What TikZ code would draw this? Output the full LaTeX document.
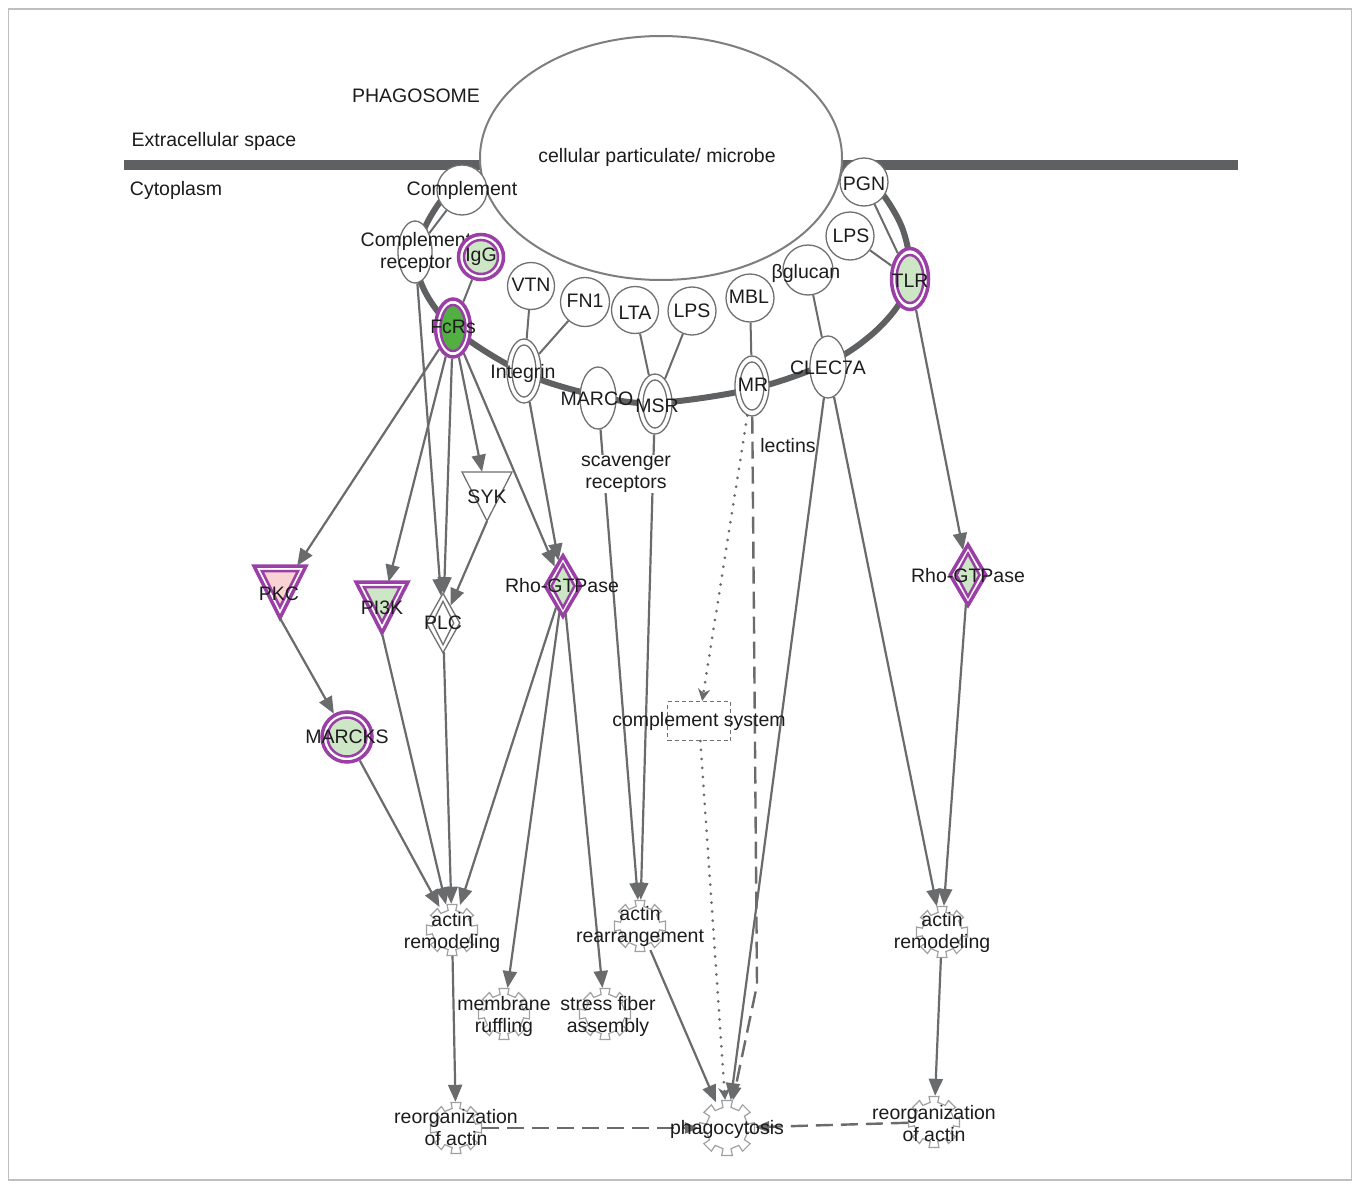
\documentclass[tikz,border=0pt]{standalone}
\usepackage{fontspec}
\setmainfont{Liberation Sans}
\usetikzlibrary{shapes.geometric,arrows.meta,calc}
\definecolor{edgegray}{HTML}{6A6B6D}
\definecolor{memgray}{HTML}{5E6062}
\definecolor{nodegray}{HTML}{707070}
\definecolor{ipapurple}{HTML}{9A3FA6}
\definecolor{lgreen}{HTML}{CDE6C5}
\definecolor{dgreen}{HTML}{52B043}
\definecolor{lpink}{HTML}{F9D3D3}
\definecolor{gearline}{HTML}{A0A0A0}
\definecolor{txt}{HTML}{1C1C1C}
\tikzset{
  pics/gearsm/.style={code={
    \draw[draw=gearline, line width=1.2pt, fill=white] ({-11}:20) \foreach \a in {0,45,...,315}{ -- ({\a-11}:20) -- ({\a-11}:26) -- ({\a+11}:26) -- ({\a+11}:20) } -- cycle;
  }},
  pics/gearbig/.style={code={
    \draw[draw=gearline, line width=1.2pt, fill=white] ({-11}:21) \foreach \a in {0,45,...,315}{ -- ({\a-11}:21) -- ({\a-11}:28) -- ({\a+11}:28) -- ({\a+11}:21) } -- cycle;
  }},
}
\begin{document}
\begin{tikzpicture}[x=1pt,y=-1pt,font=\fontsize{19.5}{22}\selectfont,
  lbl/.style={text=txt, inner sep=0pt, align=center},
  circ/.style={circle, draw=nodegray, line width=1.3pt, fill=white, inner sep=0pt},
  ell/.style={ellipse, draw=nodegray, line width=1.3pt, fill=white, inner sep=0pt},
  pout/.style={draw=ipapurple, line width=3.5pt, fill=white, inner sep=0pt},
  pin/.style={draw=ipapurple, line width=2.5pt, inner sep=0pt},
  gout/.style={draw=nodegray, line width=1.3pt, fill=white, inner sep=0pt},
  fnode/.style={circle, inner sep=0pt, minimum size=52pt},
  hook/.style={inner sep=0pt},
  lig/.style={draw=edgegray, line width=2pt},
  arr/.style={draw=edgegray, line width=2.2pt, -{Triangle[length=17pt,width=14pt]}},
  dotarr/.style={draw=edgegray, line width=3pt, dash pattern=on 0pt off 9pt, line cap=round, -{Stealth[length=12pt,width=12pt]}},
  dasharr/.style={draw=edgegray, line width=2.4pt, dash pattern=on 17pt off 8pt, -{Triangle[length=14pt,width=11pt]}},
]
\useasboundingbox (0,0) rectangle (1359,1188);
\fill[white] (0,0) rectangle (1359,1188);
\draw[black!25, line width=1.5pt] (8.5,9) rectangle (1351.5,1180);

% membrane
\draw[memgray, line width=10pt] (124,165) -- (482,165);
\draw[memgray, line width=10pt] (840,165) -- (1238,165);
\draw[memgray, line width=6pt] plot[smooth, tension=0.55] coordinates {(478,166) (446,194) (422,235) (420,280) (453,328) (524,373) (598,396) (656,403) (752,389) (828,363) (870,336) (899,304) (910,270) (903,230) (884,196) (862,175) (846,165)};

% phagosome particle
\node[ellipse, draw=nodegray!90, line width=2pt, fill=white, inner sep=0pt, minimum width=362pt, minimum height=244pt] (microbe) at (661,158) {};

% ligands and receptors
\node[circ, minimum size=50pt] (compl) at (462,190) {};
\node[ell, minimum width=34pt, minimum height=62pt] (cr) at (415,252) {};
\node[lbl] at (416,252) {Complement\\receptor};
\node[circle, pout, minimum size=45pt] (igg) at (481,257) {};
\node[circle, pin, fill=lgreen, minimum size=34pt] at (igg) {};
\node[ellipse, pout, minimum width=35pt, minimum height=58pt] (fcrs) at (453,328) {};
\node[ellipse, pin, fill=dgreen, minimum width=25pt, minimum height=46pt] at (fcrs) {};
\node[circ, minimum size=47pt] (vtn) at (531,286) {};
\node[circ, minimum size=49pt] (fn1) at (585,302) {};
\node[circ, minimum size=47pt] (lta) at (635,310) {};
\node[circ, minimum size=48pt] (lpsm) at (692,311) {};
\node[circ, minimum size=48pt] (mbl) at (750,298) {};
\node[circ, minimum size=50pt] (bgl) at (808,270) {};
\node[circ, minimum size=48pt] (lpsr) at (850,236) {};
\node[circ, minimum size=48pt] (pgn) at (864,182) {};
\node[ellipse, pout, minimum width=37pt, minimum height=61pt] (tlr) at (910,279) {};
\node[ellipse, pin, fill=lgreen, minimum width=27pt, minimum height=48pt] at (tlr) {};
\node[ell, minimum width=34pt, minimum height=64pt] (integrin) at (524,371) {};
\node[ell, minimum width=24pt, minimum height=52pt] at (integrin) {};
\node[ell, minimum width=36pt, minimum height=62pt] (marco) at (598,398) {};
\node[ell, minimum width=34pt, minimum height=60pt] (msr) at (655,404) {};
\node[ell, minimum width=24pt, minimum height=48pt] at (msr) {};
\node[ell, minimum width=34pt, minimum height=60pt] (mr) at (752,386) {};
\node[ell, minimum width=24pt, minimum height=48pt] at (mr) {};
\node[ell, minimum width=36pt, minimum height=62pt] (clec) at (828,367) {};

% signalling molecules
\node[hook, minimum width=50pt, minimum height=49pt] (syk) at (487,496.5) {};
\draw[gout] (462,472) -- (512,472) -- (487,521) -- cycle;
\node[hook, minimum width=52pt, minimum height=52pt] (pkc) at (280,592) {};
\draw[pout] (254,566) -- (306,566) -- (280,618) -- cycle;
\draw[pin, fill=lpink] (262,571) -- (298,571) -- (280,607) -- cycle;
\node[hook, minimum width=52pt, minimum height=51pt] (pi3k) at (382,607.5) {};
\draw[pout] (356,582) -- (408,582) -- (382,633) -- cycle;
\draw[pin, fill=lgreen] (364,587) -- (400,587) -- (382,622) -- cycle;
\node[diamond, gout, minimum width=34pt, minimum height=60pt] (plc) at (443,623) {};
\node[diamond, gout, minimum width=22pt, minimum height=44pt] at (plc) {};
\node[diamond, pout, minimum width=37pt, minimum height=62pt] (rhoL) at (563,586) {};
\node[diamond, pin, fill=lgreen, minimum width=24pt, minimum height=44pt] at (rhoL) {};
\node[diamond, pout, minimum width=37pt, minimum height=62pt] (rhoR) at (968,575) {};
\node[diamond, pin, fill=lgreen, minimum width=24pt, minimum height=44pt] at (rhoR) {};
\node[circle, pout, minimum size=50pt] (marcks) at (347,737) {};
\node[circle, pin, fill=lgreen, minimum size=39pt] at (marcks) {};
\node[draw=nodegray, line width=1pt, dash pattern=on 4pt off 3pt, fill=white, inner sep=0pt, minimum width=63pt, minimum height=39pt] (cs) at (699,721) {};

% functions
\node[fnode] (aremL) at (452,930) {};
\pic at (aremL) {gearsm};
\node[fnode] (mruff) at (504,1014) {};
\pic at (mruff) {gearsm};
\node[fnode] (sfa) at (605,1014) {};
\pic at (sfa) {gearsm};
\node[fnode] (arear) at (640,926) {};
\pic at (arear) {gearsm};
\node[fnode, minimum size=56pt] (phago) at (727,1128) {};
\pic at (phago) {gearbig};
\node[fnode] (reorgL) at (456,1128) {};
\pic at (reorgL) {gearsm};
\node[fnode] (aremR) at (942,932) {};
\pic at (aremR) {gearsm};
\node[fnode] (reorgR) at (934,1122) {};
\pic at (reorgR) {gearsm};

% ligand-receptor links
\draw[lig] (compl) -- (cr);
\draw[lig] (igg) -- (fcrs);
\draw[lig] (vtn) -- (integrin);
\draw[lig] (fn1) -- (integrin);
\draw[lig] (lta) -- (msr);
\draw[lig] (lpsm) -- (msr);
\draw[lig] (mbl) -- (mr);
\draw[lig] (bgl) -- (clec);
\draw[lig] (pgn) -- (tlr);
\draw[lig] (lpsr) -- (tlr);

% signalling edges
\draw[arr] (fcrs) -- (pkc);
\draw[arr] (fcrs) -- (pi3k);
\draw[arr] (fcrs) -- (plc);
\draw[arr] (cr) -- (plc);
\draw[arr] (fcrs) -- (syk);
\draw[arr] (syk.south) -- (plc);
\draw[arr] (fcrs) -- (rhoL);
\draw[arr] (integrin) -- (rhoL);
\draw[arr] (pkc.south) -- (marcks);
\draw[arr] (marcks) -- (aremL);
\draw[arr] (pi3k.south) -- (aremL);
\draw[arr] (plc) -- (aremL);
\draw[arr] (rhoL) -- (aremL);
\draw[arr] (rhoL) -- (mruff);
\draw[arr] (rhoL) -- (sfa);
\draw[arr] (marco) -- (arear);
\draw[arr] (msr) -- (arear);
\draw[arr] (arear) -- (phago);
\draw[dotarr] (mr) -- (cs);
\draw[dotarr] (cs) -- (phago);
\draw[dasharr] (mr) -- (757,985) -- (phago);
\draw[arr] (clec) -- (phago);
\draw[arr] (clec) -- (aremR);
\draw[arr] (tlr) -- (rhoR);
\draw[arr] (rhoR) -- (aremR);
\draw[arr] (aremR) -- (reorgR);
\draw[arr] (aremL) -- (reorgL);
\draw[dasharr] (reorgL) -- (phago);
\draw[dasharr] (reorgR) -- (phago);

% texts
\node[lbl] at (416,96) {PHAGOSOME};
\node[lbl] at (214,141) {Extracellular space};
\node[lbl] at (176,190) {Cytoplasm};
\node[lbl] at (657,157) {cellular particulate/ microbe};
\node[lbl] at (462,190) {Complement};
\node[lbl] at (481,257) {IgG};
\node[lbl] at (453,327) {FcRs};
\node[lbl] at (531,285) {VTN};
\node[lbl] at (585,301) {FN1};
\node[lbl] at (635,313) {LTA};
\node[lbl] at (692,311) {LPS};
\node[lbl] at (749,297) {MBL};
\node[lbl] at (806,273) {βglucan};
\node[lbl] at (851,236) {LPS};
\node[lbl] at (864,184) {PGN};
\node[lbl] at (910,281) {TLR};
\node[lbl] at (523,373) {Integrin};
\node[lbl] at (597,399) {MARCO};
\node[lbl] at (657,406) {MSR};
\node[lbl] at (753,385) {MR};
\node[lbl] at (828,368) {CLEC7A};
\node[lbl, fill=white, inner sep=1pt] at (626,474) {scavenger\\receptors};
\node[lbl] at (788,446) {lectins};
\node[lbl] at (487,497) {SYK};
\node[lbl] at (279,594) {PKC};
\node[lbl] at (382,608) {PI3K};
\node[lbl] at (443,623) {PLC};
\node[lbl] at (562,586) {Rho-GTPase};
\node[lbl] at (968,576) {Rho-GTPase};
\node[lbl] at (347,737) {MARCKS};
\node[lbl] at (699,721) {complement system};
\node[lbl] at (452,932) {actin\\remodeling};
\node[lbl] at (504,1016) {membrane\\ruffling};
\node[lbl] at (608,1016) {stress fiber\\assembly};
\node[lbl] at (640,926) {actin\\rearrangement};
\node[lbl] at (727,1129) {phagocytosis};
\node[lbl] at (456,1128) {reorganization\\of actin};
\node[lbl] at (942,932) {actin\\remodeling};
\node[lbl] at (934,1124) {reorganization\\of actin};
\end{tikzpicture}
\end{document}
